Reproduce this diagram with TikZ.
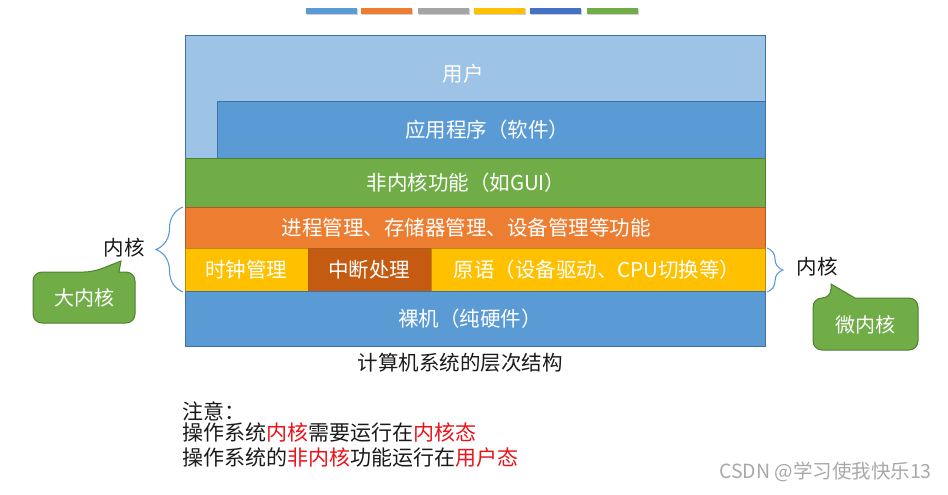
\documentclass[tikz,border=0pt]{standalone}
\usepackage{fontspec}
\setmainfont{Noto Sans CJK SC}
\usetikzlibrary{decorations.pathreplacing}
\definecolor{lblue}{HTML}{9DC3E6}
\definecolor{mblue}{HTML}{5B9BD5}
\definecolor{bblue}{HTML}{41719C}
\definecolor{dblue}{HTML}{4472C4}
\definecolor{ogreen}{HTML}{70AD47}
\definecolor{bgreen}{HTML}{507E32}
\definecolor{oorange}{HTML}{ED7D31}
\definecolor{borange}{HTML}{AE5A21}
\definecolor{oyellow}{HTML}{FFC000}
\definecolor{byellow}{HTML}{BC8C00}
\definecolor{dorange}{HTML}{C55A11}
\definecolor{ogray}{HTML}{A5A5A5}
\definecolor{wmgray}{HTML}{A8A8A8}
\definecolor{notered}{HTML}{E8141C}
\definecolor{txt}{HTML}{1A1A1A}
\tikzset{
  layer/.style={draw=#1, line width=0.9pt},
  boxtext/.style={text=white, font=\fontsize{20.5}{23}\selectfont, inner sep=0pt},
  calltext/.style={text=white, font=\fontsize{20}{23}\selectfont, inner sep=0pt},
  plaintext/.style={text=txt, font=\fontsize{20.5}{23}\selectfont, inner sep=0pt},
  notetext/.style={text=txt, font=\fontsize{21}{24}\selectfont, inner sep=0pt, anchor=west},
  bracestyle/.style={draw=mblue, line width=1.1pt, decorate},
  callout/.style={fill=ogreen, draw=bgreen, line width=1pt},
}
\begin{document}
\begin{tikzpicture}[x=1pt,y=-1pt]
\useasboundingbox (0,0) rectangle (948,495);
% colour bar
\foreach \a/\b/\c in {306/357/mblue,361/412/oorange,418/469/ogray,474/525/oyellow,530/581/dblue,587/638/ogreen}{
  \fill[black!18] (\a+1,9) rectangle (\b+1,15);
  \fill[\c] (\a,8) rectangle (\b,14);
}
% layers
\draw[layer=bblue, fill=lblue] (185,35) rectangle (765,158);
\draw[layer=bblue, fill=mblue] (217,101) rectangle (765,158);
\draw[layer=bgreen, fill=ogreen] (185,158) rectangle (765,207);
\draw[layer=borange, fill=oorange] (185,207) rectangle (765,248);
\draw[layer=byellow, fill=oyellow] (185,248) rectangle (308,291);
\draw[layer=borange, fill=dorange] (308,248) rectangle (431,291);
\draw[layer=byellow, fill=oyellow] (431,248) rectangle (765,291);
\draw[layer=bblue, fill=mblue] (185,291) rectangle (765,346);
% layer texts
\node[boxtext] (user) at (463,74) {用户};
\node[boxtext] (app) at (487,130) {应用程序（软件）};
\node[boxtext] (nonk) at (466,183) {非内核功能（如GUI）};
\node[boxtext] (proc) at (466,228) {进程管理、存储器管理、设备管理等功能};
\node[boxtext] (clock) at (246,270) {时钟管理};
\node[boxtext] (intr) at (369,270) {中断处理};
\node[boxtext] (prim) at (597,270) {原语（设备驱动、CPU切换等）};
\node[boxtext] (bare) at (470,319) {裸机（纯硬件）};
\node[plaintext] (cap) at (460,363) {计算机系统的层次结构};
% braces
\coordinate (lb1) at (183,292);
\coordinate (lb2) at (183,207);
\draw[bracestyle, decoration={brace, amplitude=27pt, aspect=0.5}] (lb1) -- (lb2);
\coordinate (rb1) at (767,248);
\coordinate (rb2) at (767,292);
\draw[bracestyle, decoration={brace, amplitude=16pt, aspect=0.5}] (rb1) -- (rb2);
\node[plaintext] (kl) at (124,248) {内核};
\node[plaintext] (kr) at (817,267) {内核};
% callouts
\draw[callout] (33,297) [rounded corners=9pt] -- (33,272) -- (93,272) [sharp corners] -- (121,261) -- (119,272) [rounded corners=9pt] -- (135,272) -- (135,323) -- (33,323) -- cycle;
\node[calltext] (big) at (84,298) {大内核};
\draw[callout] (813,324) [rounded corners=9pt] -- (813,298) -- (831,298) [sharp corners] -- (831,284) -- (855,298) [rounded corners=9pt] -- (918,298) -- (918,350) -- (813,350) -- cycle;
\node[calltext] (micro) at (865,325) {微内核};
% notes
\node[notetext] (n1) at (182,411) {注意：};
\node[notetext] (n2) at (182,433) {操作系统\textcolor{notered}{内核}需要运行在\textcolor{notered}{内核态}};
\node[notetext] (n3) at (182,458) {操作系统的\textcolor{notered}{非内核}功能运行在\textcolor{notered}{用户态}};
% watermark
\node[text=wmgray, font=\fontsize{19.5}{22}\selectfont, inner sep=0pt, anchor=east] (wm) at (932,472) {CSDN @学习使我快乐13};
\end{tikzpicture}
\end{document}
